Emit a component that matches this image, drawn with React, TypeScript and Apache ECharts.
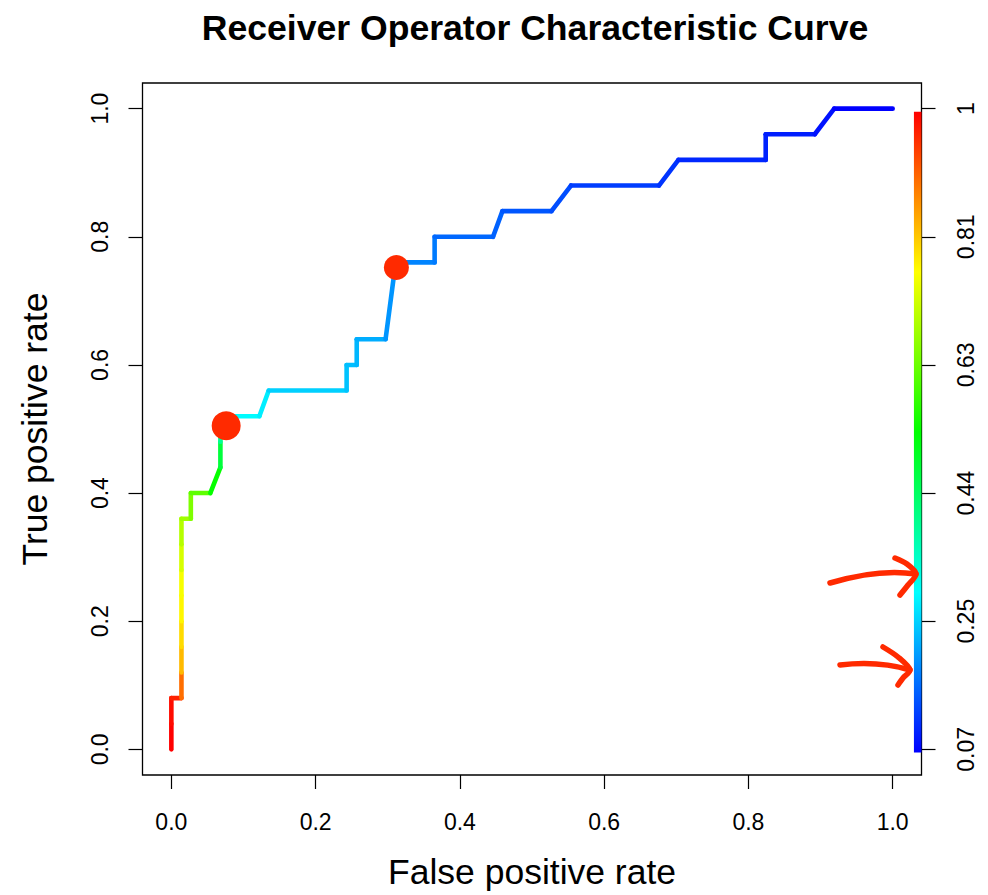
import React, { useEffect, useRef } from "react";
import * as echarts from "echarts";

// ROC curve points
const fpr = [0, 0, 0, 0.014, 0.014, 0.014, 0.014, 0.014, 0.014, 0.014, 0.014, 0.027, 0.027, 0.054, 0.068, 0.068, 0.068, 0.122, 0.135, 0.243, 0.243, 0.257, 0.257, 0.297, 0.311, 0.365, 0.365, 0.446, 0.459, 0.527, 0.554, 0.676, 0.703, 0.824, 0.824, 0.892, 0.919, 1.0];
const tpr = [0, 0.04, 0.08, 0.08, 0.12, 0.16, 0.2, 0.24, 0.28, 0.32, 0.36, 0.36, 0.4, 0.4, 0.44, 0.48, 0.52, 0.52, 0.56, 0.56, 0.6, 0.6, 0.64, 0.64, 0.76, 0.76, 0.8, 0.8, 0.84, 0.84, 0.88, 0.88, 0.92, 0.92, 0.96, 0.96, 1.0, 1.0];
const cutoff = [1.0, 1.0, 0.99, 0.97, 0.9, 0.83, 0.8, 0.775, 0.76, 0.73, 0.7, 0.68, 0.65, 0.62, 0.54, 0.48, 0.4, 0.3, 0.287, 0.26, 0.248, 0.244, 0.237, 0.228, 0.206, 0.19, 0.182, 0.165, 0.159, 0.148, 0.14, 0.126, 0.117, 0.106, 0.101, 0.097, 0.086, 0.07];

const axisTicks = [0, 0.2, 0.4, 0.6, 0.8, 1.0];
const cutoffLabels = ["0.07", "0.25", "0.44", "0.63", "0.81", "1"];
const cutoffMin = 0.07;
const cutoffMax = 1.0;

// hand-marked points
const markedFpr = [0.076, 0.312];
const markedTpr = [0.505, 0.752];
const markedSize = [29, 25];

const FONT = "'Liberation Sans', Arial, Helvetica, sans-serif";
const MARK = "#FF2A00";

function rainbow(c: number): string {
  const t = Math.min(1, Math.max(0, (c - cutoffMin) / (cutoffMax - cutoffMin)));
  const h = (1 - t) * 240;
  const hp = h / 60;
  const x = 1 - Math.abs((hp % 2) - 1);
  let r = 0, g = 0, b = 0;
  if (hp < 1) { r = 1; g = x; }
  else if (hp < 2) { r = x; g = 1; }
  else if (hp < 3) { g = 1; b = x; }
  else { g = x; b = 1; }
  return `rgb(${Math.round(r * 255)},${Math.round(g * 255)},${Math.round(b * 255)})`;
}

export default function App() {
  const ref = useRef<HTMLDivElement>(null);

  useEffect(() => {
    document.body.style.margin = "0";
    if (!ref.current) return;
    const chart = echarts.init(ref.current, null, { renderer: "svg" });

    const segments: number[][] = [];
    for (let i = 1; i < fpr.length; i++) {
      segments.push([fpr[i - 1], tpr[i - 1], fpr[i], tpr[i], cutoff[i]]);
    }

    const axisCommon = {
      type: "value" as const,
      min: -0.04,
      max: 1.04,
      splitLine: { show: false },
      axisLine: { show: false, onZero: false },
      axisTick: { show: true, inside: false, length: 14, customValues: axisTicks, lineStyle: { color: "#000", width: 1.2 } },
    };

    const labelStyle = { color: "#000", fontSize: 23, fontFamily: FONT };

    chart.setOption({
      animation: false,
      backgroundColor: "#fff",
      title: {
        text: "Receiver Operator Characteristic Curve",
        left: 530,
        top: 5,
        textAlign: "center",
        textStyle: { fontSize: 35.6, fontWeight: "bold", color: "#000", fontFamily: FONT },
      },
      grid: {
        left: 142.5,
        top: 83,
        width: 779,
        height: 694.5,
        show: true,
        borderColor: "#000",
        borderWidth: 1.3,
        backgroundColor: "transparent",
      },
      xAxis: {
        ...axisCommon,
        name: "False positive rate",
        nameLocation: "middle",
        nameGap: 79,
        nameTextStyle: { color: "#000", fontSize: 35.5, fontFamily: FONT },
        axisLabel: {
          ...labelStyle,
          margin: 35,
          customValues: axisTicks,
          formatter: (v: number) => v.toFixed(1),
        },
      },
      yAxis: [
        {
          ...axisCommon,
          position: "left",
          name: "True positive rate",
          nameLocation: "middle",
          nameGap: 90,
          nameTextStyle: { color: "#000", fontSize: 35.5, fontFamily: FONT },
          axisLabel: {
            ...labelStyle,
            margin: 31,
            rotate: 90,
            customValues: axisTicks,
            formatter: (v: number) => v.toFixed(1),
          },
        },
        {
          ...axisCommon,
          position: "right",
          axisLabel: {
            ...labelStyle,
            margin: 33,
            rotate: 90,
            customValues: axisTicks,
            formatter: (v: number) => {
              const idx = axisTicks.findIndex((t) => Math.abs(t - v) < 1e-6);
              return idx >= 0 ? cutoffLabels[idx] : "";
            },
          },
        },
      ],
      series: [
        {
          type: "custom",
          name: "colorkey",
          xAxisIndex: 0,
          yAxisIndex: 1,
          silent: true,
          data: [[1.0295, 1.04, -0.005, 0.995]],
          encode: { x: [0, 1], y: [2, 3] },
          renderItem: (_p: any, api: any) => {
            const a = api.coord([api.value(0), api.value(3)]);
            const b = api.coord([api.value(1), api.value(2)]);
            return {
              type: "rect",
              shape: { x: a[0], y: a[1], width: b[0] - a[0], height: b[1] - a[1] },
              style: {
                fill: new echarts.graphic.LinearGradient(0, 0, 0, 1, [
                  { offset: 0, color: "#FF0000" },
                  { offset: 0.25, color: "#FFFF00" },
                  { offset: 0.5, color: "#00FF00" },
                  { offset: 0.75, color: "#00FFFF" },
                  { offset: 1, color: "#0000FF" },
                ]),
              },
            };
          },
        },
        {
          type: "custom",
          name: "roc",
          xAxisIndex: 0,
          yAxisIndex: 0,
          silent: true,
          data: segments,
          encode: { x: [0, 2], y: [1, 3] },
          renderItem: (_p: any, api: any) => {
            const p1 = api.coord([api.value(0), api.value(1)]);
            const p2 = api.coord([api.value(2), api.value(3)]);
            return {
              type: "line",
              shape: { x1: p1[0], y1: p1[1], x2: p2[0], y2: p2[1] },
              style: { stroke: rainbow(api.value(4)), lineWidth: 4.6, lineCap: "round" },
            };
          },
        },
        {
          type: "scatter",
          name: "marked",
          xAxisIndex: 0,
          yAxisIndex: 0,
          silent: true,
          data: markedFpr.map((x, i) => [x, markedTpr[i]]),
          symbol: "circle",
          symbolSize: (_v: any, p: any) => markedSize[p.dataIndex],
          itemStyle: { color: MARK, opacity: 1 },
          z: 5,
        },
      ],
      graphic: [
        {
          type: "bezierCurve",
          shape: { x1: 830, y1: 583, cpx1: 860, cpy1: 574, cpx2: 890, cpy2: 570, x2: 916, y2: 574 },
          style: { stroke: MARK, lineWidth: 5.5, lineCap: "round", fill: "none" },
          z: 10,
        },
        {
          type: "polyline",
          shape: { points: [[895, 558], [907, 564], [916, 574], [908, 585], [900, 595]], smooth: 0.3 },
          style: { stroke: MARK, lineWidth: 5.5, lineCap: "round", lineJoin: "round", fill: "none" },
          z: 10,
        },
        {
          type: "bezierCurve",
          shape: { x1: 840, y1: 665, cpx1: 865, cpy1: 662, cpx2: 890, cpy2: 664, x2: 910, y2: 670 },
          style: { stroke: MARK, lineWidth: 5.5, lineCap: "round", fill: "none" },
          z: 10,
        },
        {
          type: "polyline",
          shape: { points: [[883, 647], [898, 657], [910, 670], [903, 678], [898, 685]], smooth: 0.3 },
          style: { stroke: MARK, lineWidth: 5.5, lineCap: "round", lineJoin: "round", fill: "none" },
          z: 10,
        },
      ],
    });

    return () => chart.dispose();
  }, []);

  return <div ref={ref} style={{ width: 988, height: 895 }} />;
}
